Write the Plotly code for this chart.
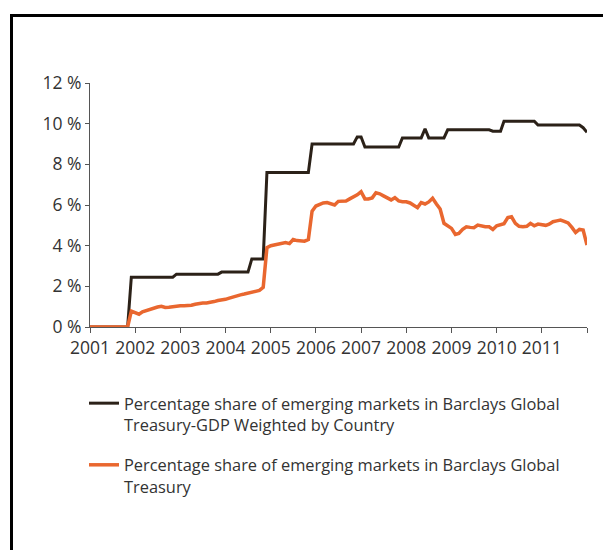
"""Emerging markets share in Barclays Global Treasury indices, 2001-2011."""

import pandas as pd
import plotly.graph_objects as go

BLACK = "#2b2118"
ORANGE = "#e9672f"
TEXT = "#333333"
FONT = "Open Sans"

# monthly observations, Jan 2001 .. Jan 2012
months = pd.date_range("2001-01-01", "2012-01-01", freq="MS")

gdp_weighted = [
    0, 0, 0, 0, 0, 0, 0, 0, 0, 0, 0, 2.45,                          # 2001
    2.45, 2.45, 2.45, 2.45, 2.45, 2.45, 2.45, 2.45, 2.45, 2.45, 2.45, 2.6,  # 2002
    2.6, 2.6, 2.6, 2.6, 2.6, 2.6, 2.6, 2.6, 2.6, 2.6, 2.6, 2.7,      # 2003
    2.7, 2.7, 2.7, 2.7, 2.7, 2.7, 2.7, 3.35, 3.35, 3.35, 3.35, 7.6,  # 2004
    7.6, 7.6, 7.6, 7.6, 7.6, 7.6, 7.6, 7.6, 7.6, 7.6, 7.6, 9.0,      # 2005
    9.0, 9.0, 9.0, 9.0, 9.0, 9.0, 9.0, 9.0, 9.0, 9.0, 9.0, 9.35,     # 2006
    9.35, 8.85, 8.85, 8.85, 8.85, 8.85, 8.85, 8.85, 8.85, 8.85, 8.85, 9.3,  # 2007
    9.3, 9.3, 9.3, 9.3, 9.3, 9.75, 9.3, 9.3, 9.3, 9.3, 9.3, 9.7,     # 2008
    9.7, 9.7, 9.7, 9.7, 9.7, 9.7, 9.7, 9.7, 9.7, 9.7, 9.7, 9.63,     # 2009
    9.63, 9.63, 10.12, 10.12, 10.12, 10.12, 10.12, 10.12, 10.12, 10.12, 10.12, 9.93,  # 2010
    9.93, 9.93, 9.93, 9.93, 9.93, 9.93, 9.93, 9.93, 9.93, 9.93, 9.93, 9.8,  # 2011
    9.58,                                                              # Jan 2012
]

treasury = [
    0, 0, 0, 0, 0, 0, 0, 0, 0, 0, 0, 0.78,
    0.72, 0.63, 0.75, 0.82, 0.88, 0.92, 0.98, 1.02, 0.96, 0.97, 1.0, 1.02,
    1.05, 1.04, 1.05, 1.07, 1.12, 1.17, 1.18, 1.18, 1.2, 1.25, 1.3, 1.32,
    1.36, 1.42, 1.48, 1.5, 1.58, 1.62, 1.66, 1.72, 1.76, 1.8, 1.95, 3.9,
    4.0, 4.03, 4.1, 4.12, 4.15, 4.1, 4.3, 4.25, 4.22, 4.22, 4.3, 5.7,
    5.95, 6.05, 6.1, 6.12, 6.05, 6.0, 6.18, 6.2, 6.2, 6.3, 6.4, 6.5,
    6.65, 6.3, 6.3, 6.35, 6.6, 6.55, 6.45, 6.35, 6.25, 6.36, 6.2, 6.16,
    6.16, 6.1, 6.0, 5.87, 6.12, 6.05, 6.15, 6.33, 6.05, 5.8, 5.1, 5.0,
    4.85, 4.55, 4.6, 4.8, 4.93, 4.9, 4.88, 5.01, 4.95, 4.93, 4.93, 4.8,
    4.98, 5.02, 5.08, 5.38, 5.42, 5.1, 4.95, 4.93, 4.95, 5.1, 4.98, 5.06,
    5.02, 5.0, 5.06, 5.18, 5.22, 5.26, 5.2, 5.12, 4.9, 4.65, 4.8, 4.77,
    4.03,
]

year_ticks = pd.date_range("2001-01-01", "2012-01-01", freq="YS")
year_labels = [str(d.year) for d in year_ticks[:-1]] + [""]
pct_ticks = [0, 2, 4, 6, 8, 10, 12]
pct_labels = [f"{v} %" for v in pct_ticks]

names = [
    "Percentage share of emerging markets in Barclays Global<br>Treasury-GDP Weighted by Country",
    "Percentage share of emerging markets in Barclays Global<br>Treasury",
]

fig = go.Figure()
fig.add_trace(go.Scatter(x=months, y=gdp_weighted, mode="lines", name=names[0],
                         legendgroup="a", line=dict(color=BLACK, width=3)))
fig.add_trace(go.Scatter(x=months, y=treasury, mode="lines", name=names[1],
                         legendgroup="b", line=dict(color=ORANGE, width=3.5)))

# page has an 8px body margin; positions below are in on-screen pixels
plot_h = 244
def py(pix):
    return (327 - pix) / plot_h
def px_(pix):
    return (pix - 90) / 497

# frame around the figure (left and top edges visible)
fig.add_shape(type="line", xref="paper", yref="paper", x0=px_(11.5), x1=px_(620),
              y0=py(15.5), y1=py(15.5), line=dict(color="black", width=3))
fig.add_shape(type="line", xref="paper", yref="paper", x0=px_(11.5), x1=px_(11.5),
              y0=py(14), y1=py(560), line=dict(color="black", width=3))

fig.update_layout(
    width=611, height=550,
    margin=dict(l=82, r=32, t=75, b=231),
    paper_bgcolor="white", plot_bgcolor="white",
    font=dict(family=FONT, size=17.5, color=TEXT),
    showlegend=True,
    legend=dict(x=px_(84), y=py(386), xanchor="left", yanchor="top",
                font=dict(family=FONT, size=16.4, color=TEXT),
                tracegroupgap=16, valign="top", bgcolor="rgba(0,0,0,0)"),
    xaxis=dict(range=[months[0], months[-1]], tickvals=year_ticks, ticktext=year_labels,
               showgrid=False, zeroline=False, showline=True, linecolor="#555555",
               linewidth=1, ticks="outside", ticklen=5, tickcolor="#555555"),
    yaxis=dict(range=[0, 12], tickvals=pct_ticks, ticktext=pct_labels,
               showgrid=False, zeroline=False, showline=True, linecolor="#555555",
               linewidth=1, ticks="outside", ticklen=4, tickcolor="#555555"),
)

fig.write_html("out.html")
